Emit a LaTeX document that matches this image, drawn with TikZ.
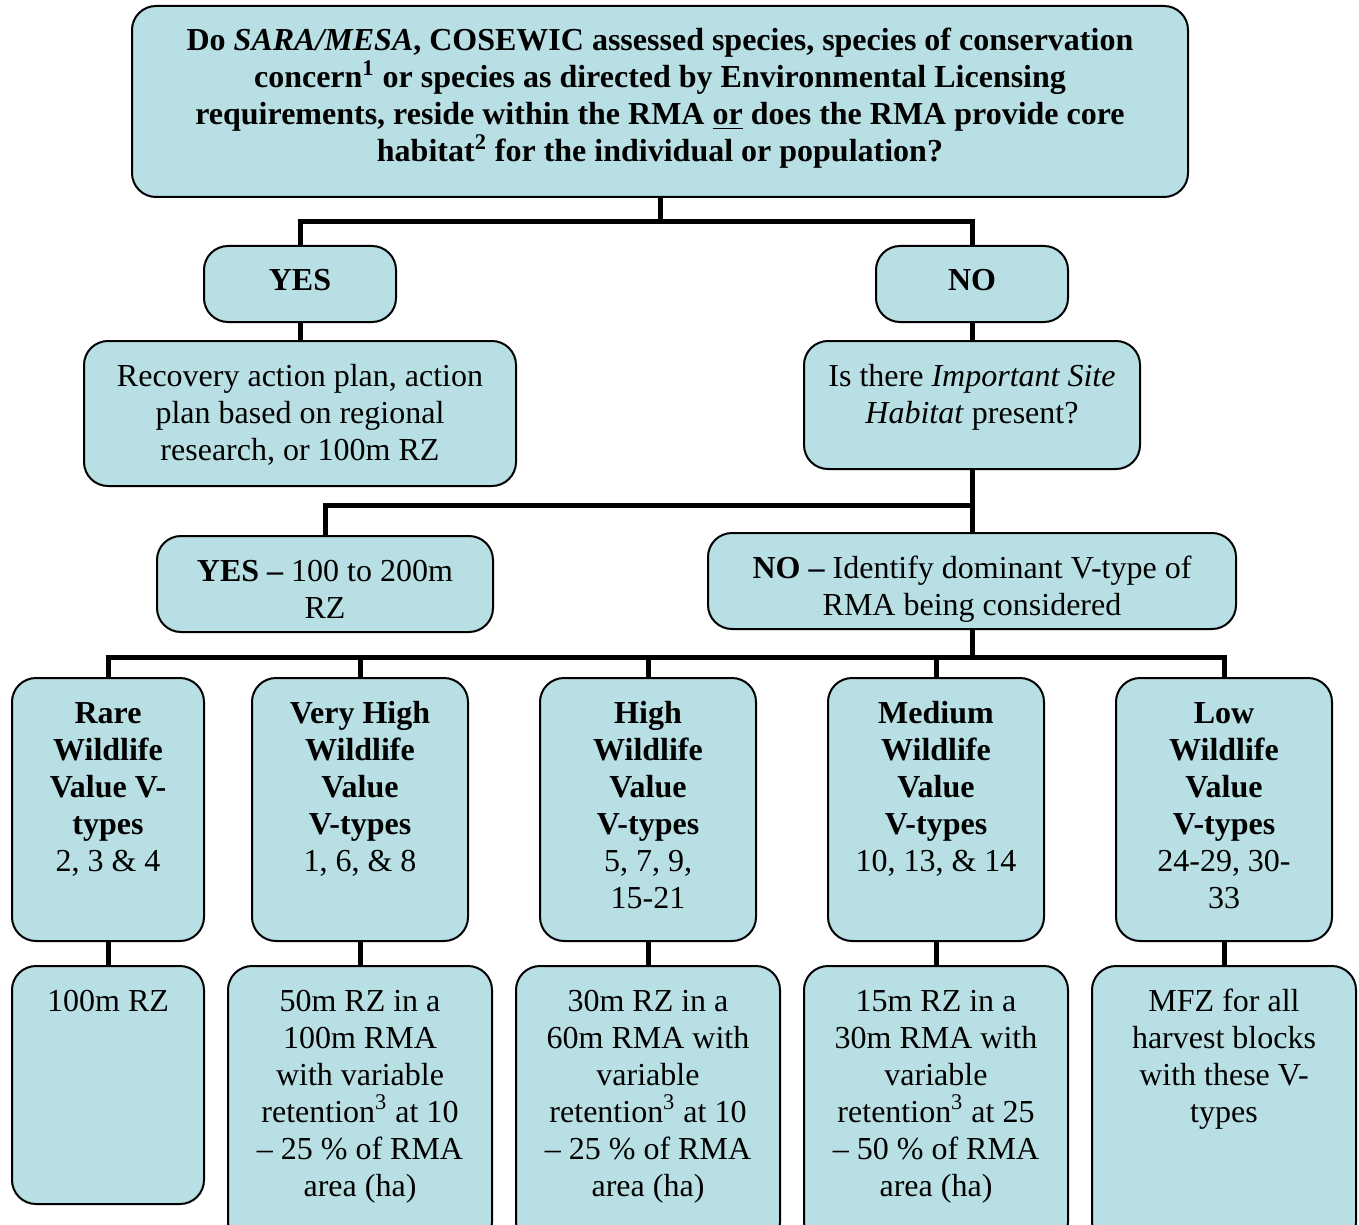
\documentclass[tikz,border=0pt]{standalone}
\usepackage{fontspec}
\setmainfont{Liberation Serif}
\usepackage{xcolor}
\usetikzlibrary{positioning}
\definecolor{boxcyan}{RGB}{184,223,227}
% text block set at the top of a box of fixed size (width, height in pt)
\newcommand{\boxtxt}[3]{\parbox[c][#2pt][t]{#1pt}{\centering\rule{0pt}{22.5pt}#3}}

\begin{document}
\begin{tikzpicture}[x=0.5pt,y=-0.5pt,font=\fontsize{16}{18.5}\selectfont,
  box/.style={draw,line width=1pt,fill=boxcyan,rounded corners=12pt,inner sep=0pt,anchor=north west},
  bus/.style={line width=2.5pt}]
  \useasboundingbox (0,0) rectangle (1359,1225);
  \clip (0,0) rectangle (1359,1225);

  % question
  \node[box] (quest) at (131,5) {\boxtxt{528}{95.5}{\bfseries Do \textit{SARA/MESA}, COSEWIC assessed species, species of conservation\\
    concern\textsuperscript{1} or species as directed by Environmental Licensing\\
    requirements, reside within the RMA \underline{or} does the RMA provide core\\
    habitat\textsuperscript{2} for the individual or population?}};
  \node[box] (yes) at (203,245) {\boxtxt{96}{38}{\textbf{YES}}};
  \node[box] (no) at (875,245) {\boxtxt{96}{38}{\textbf{NO}}};
  \node[box] (recov) at (83,340) {\boxtxt{216}{72.5}{Recovery action plan, action\\plan based on regional\\research, or 100m RZ}};
  \node[box] (site) at (803,340) {\boxtxt{168}{64}{Is there \textit{Important Site}\\\textit{Habitat} present?}};
  \node[box] (siteyes) at (156,535) {\boxtxt{168}{48}{\textbf{YES \textendash} 100 to 200m\\RZ}};
  \node[box] (siteno) at (707,532) {\boxtxt{264}{48}{\textbf{NO \textendash} Identify dominant V-type of\\RMA being considered}};

  % wildlife value classes
  \node[box] (rare) at (11,677) {\boxtxt{96}{131.5}{\textbf{Rare\\Wildlife\\Value V-\\types}\\2, 3 \& 4}};
  \node[box] (vhigh) at (251,677) {\boxtxt{108}{131.5}{\textbf{Very High\\Wildlife\\Value\\V-types}\\1, 6, \& 8}};
  \node[box] (high) at (539,677) {\boxtxt{108}{131.5}{\textbf{High\\Wildlife\\Value\\V-types}\\5, 7, 9,\\15-21}};
  \node[box] (med) at (827,677) {\boxtxt{108}{131.5}{\textbf{Medium\\Wildlife\\Value\\V-types}\\10, 13, \& 14}};
  \node[box] (low) at (1115,677) {\boxtxt{108}{131.5}{\textbf{Low\\Wildlife\\Value\\V-types}\\24-29, 30-\\33}};

  % prescriptions
  \node[box] (rzrare) at (11,965) {\boxtxt{96}{119}{100m RZ}};
  \node[box] (rzvhigh) at (227,965) {\boxtxt{132}{140}{50m RZ in a\\100m RMA\\with variable\\retention\textsuperscript{3} at 10\\\textendash{} 25 \% of RMA\\area (ha)}};
  \node[box] (rzhigh) at (515,965) {\boxtxt{132}{140}{30m RZ in a\\60m RMA with\\variable\\retention\textsuperscript{3} at 10\\\textendash{} 25 \% of RMA\\area (ha)}};
  \node[box] (rzmed) at (803,965) {\boxtxt{132}{140}{15m RZ in a\\30m RMA with\\variable\\retention\textsuperscript{3} at 25\\\textendash{} 50 \% of RMA\\area (ha)}};
  \node[box] (rzlow) at (1091,965) {\boxtxt{132}{140}{MFZ for all\\harvest blocks\\with these V-\\types}};

  % connectors
  \draw[bus] (quest.south) -- ++(0,24) -| (yes.north);
  \draw[bus] (quest.south) -- ++(0,24) -| (no.north);
  \draw[bus] (yes.south) -- (recov.north);
  \draw[bus] (no.south) -- (site.north);
  \draw[bus] (site.south) -- ++(0,35) -| (siteyes.north);
  \draw[bus] (site.south) -- (siteno.north);
  \foreach \cls/\rz in {rare/rzrare,vhigh/rzvhigh,high/rzhigh,med/rzmed,low/rzlow}{
    \draw[bus] (siteno.south) -- ++(0,27) -| (\cls.north);
    \draw[bus] (\cls.south) -- (\rz.north);
  }
\end{tikzpicture}
\end{document}
